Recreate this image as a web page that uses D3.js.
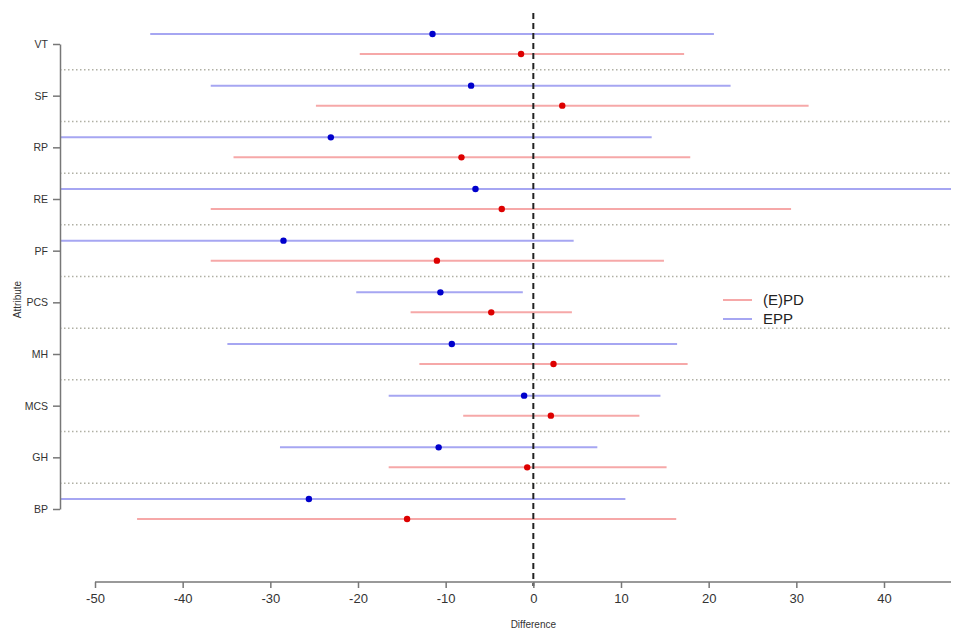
<!DOCTYPE html>
<html lang="en">
<head>
    <meta charset="UTF-8">
    <title>Difference by attribute</title>
    <style>
        body { margin: 0; background: #fff; }
        text { font-family: Arial, "Liberation Sans", sans-serif; }
    </style>
</head>
<body>
<script src='https://d3js.org/d3.v7.min.js' type='text/javascript'></script>
<script>
    // attributes, top to bottom
    var attributes = ["VT", "SF", "RP", "RE", "PF", "PCS", "MH", "MCS", "GH", "BP"];
    // EPP (blue): estimate and interval
    var eppEst = [-11.5, -7.1, -23.1, -6.6, -28.5, -10.6, -9.3, -1.05, -10.8, -25.6];
    var eppLo = [-43.7, -36.8, -58, -60, -60, -20.2, -34.9, -16.5, -28.9, -58];
    var eppHi = [20.6, 22.5, 13.5, 52, 4.6, -1.2, 16.4, 14.5, 7.3, 10.5];
    // (E)PD (red): estimate and interval
    var pdEst = [-1.4, 3.3, -8.2, -3.6, -11.0, -4.8, 2.3, 2.0, -0.7, -14.4];
    var pdLo = [-19.8, -24.8, -34.2, -36.8, -36.8, -14.0, -13.0, -8.0, -16.5, -45.2];
    var pdHi = [17.2, 31.4, 17.9, 29.4, 14.9, 4.4, 17.6, 12.1, 15.2, 16.3];
    var xTicks = [-50, -40, -30, -20, -10, 0, 10, 20, 30, 40];
    var seriesNames = ["(E)PD", "EPP"];

    const width = 957;
    const height = 639;
    const plotL = 60, plotR = 951, plotT = 13, plotB = 586;
    const axisY = 582;

    const svg = d3.select("body")
        .append("svg")
        .attr("width", width)
        .attr("height", height);

    const x = d3.scaleLinear().domain([-50, 40]).range([95, 884]);
    const y = d3.scalePoint().domain(attributes).range([44, 509]);
    const off = 10;

    svg.append("clipPath").attr("id", "plot")
        .append("rect")
        .attr("x", plotL).attr("y", plotT)
        .attr("width", plotR - plotL).attr("height", plotB - plotT);

    // dotted separators between attributes
    var seps = attributes.slice(0, -1);
    svg.append("g")
        .selectAll("line")
        .data(seps)
        .enter()
        .append("line")
        .attr("x1", plotL)
        .attr("x2", plotR)
        .attr("y1", d => y(d) + y.step() / 2)
        .attr("y2", d => y(d) + y.step() / 2)
        .attr("stroke", "#b0b0a4")
        .attr("stroke-width", 1.5)
        .attr("stroke-dasharray", "1.5,2.5");

    var rows = attributes.map(function (a, i) {
        return {a: a, i: i};
    });

    const g = svg.append("g").attr("clip-path", "url(#plot)");

    // interval lines
    g.selectAll(".epp")
        .data(rows)
        .enter()
        .append("line")
        .attr("class", "epp")
        .attr("x1", d => x(eppLo[d.i]))
        .attr("x2", d => x(eppHi[d.i]))
        .attr("y1", d => y(d.a) - off)
        .attr("y2", d => y(d.a) - off)
        .attr("stroke", "#a6a6f2")
        .attr("stroke-width", 2);

    g.selectAll(".pd")
        .data(rows)
        .enter()
        .append("line")
        .attr("class", "pd")
        .attr("x1", d => x(pdLo[d.i]))
        .attr("x2", d => x(pdHi[d.i]))
        .attr("y1", d => y(d.a) + off)
        .attr("y2", d => y(d.a) + off)
        .attr("stroke", "#f6a8a8")
        .attr("stroke-width", 2);

    // zero reference line
    svg.append("line")
        .attr("x1", x(0)).attr("x2", x(0))
        .attr("y1", plotT).attr("y2", plotB)
        .attr("stroke", "#222")
        .attr("stroke-width", 2)
        .attr("stroke-dasharray", "6,4");

    // estimates
    g.selectAll(".eppPt")
        .data(rows)
        .enter()
        .append("circle")
        .attr("cx", d => x(eppEst[d.i]))
        .attr("cy", d => y(d.a) - off)
        .attr("r", 3.2)
        .attr("fill", "#0000cc");

    g.selectAll(".pdPt")
        .data(rows)
        .enter()
        .append("circle")
        .attr("cx", d => x(pdEst[d.i]))
        .attr("cy", d => y(d.a) + off)
        .attr("r", 3.2)
        .attr("fill", "#dd0000");

    // y axis
    const yAxis = svg.append("g")
        .attr("transform", "translate(" + plotL + ",0)")
        .call(d3.axisLeft(y).tickSize(7).tickSizeOuter(0).tickPadding(5));
    yAxis.selectAll("path, line").attr("stroke", "#777").attr("stroke-width", 1.5);
    yAxis.selectAll("text").attr("fill", "#333").style("font-size", "10.5px");

    // x axis (plain hyphen minus, as in the original)
    const xAxis = svg.append("g")
        .attr("transform", "translate(0," + axisY + ")")
        .call(d3.axisBottom(x).tickValues(xTicks).tickSize(6).tickPadding(6)
            .tickFormat(d => String(d)));
    xAxis.select(".domain").remove();
    xAxis.append("line")
        .attr("x1", x(-50)).attr("x2", plotR)
        .attr("stroke", "#777").attr("stroke-width", 1.5);
    xAxis.selectAll("line").attr("stroke", "#777").attr("stroke-width", 1.5);
    xAxis.selectAll("text").attr("fill", "#333").style("font-size", "13px");

    // axis titles
    svg.append("text")
        .attr("x", x(0))
        .attr("y", 628)
        .attr("text-anchor", "middle")
        .attr("fill", "#333")
        .style("font-size", "10px")
        .text("Difference");

    svg.append("text")
        .attr("transform", "translate(21," + (plotT + plotB) / 2 + ") rotate(-90)")
        .attr("text-anchor", "middle")
        .attr("fill", "#333")
        .style("font-size", "10px")
        .text("Attribute");

    // legend
    var legendColors = ["#f6a8a8", "#a6a6f2"];
    const legend = svg.append("g").attr("transform", "translate(723,300)");
    legend.selectAll("line")
        .data(seriesNames)
        .enter()
        .append("line")
        .attr("x1", 0).attr("x2", 29)
        .attr("y1", (d, i) => i * 19)
        .attr("y2", (d, i) => i * 19)
        .attr("stroke", (d, i) => legendColors[i])
        .attr("stroke-width", 2);
    legend.selectAll("text")
        .data(seriesNames)
        .enter()
        .append("text")
        .attr("x", 40)
        .attr("y", (d, i) => i * 19 + 5)
        .attr("fill", "#222")
        .style("font-size", "15px")
        .text(d => d);
</script>
</body>
</html>
